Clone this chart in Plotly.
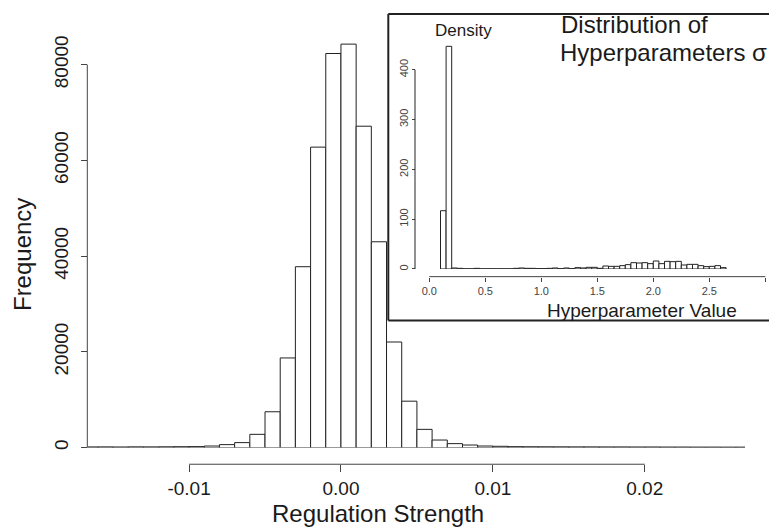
import plotly.graph_objects as go

W, H = 769, 530
FONT = "Liberation Sans, Arial, Helvetica, sans-serif"
TXT = "#1a1a1a"
AX = "#444444"

# ---------------- main histogram: regulation strength ----------------
reg_bin_left = [-0.017, -0.016, -0.015, -0.014, -0.013, -0.012, -0.011, -0.010,
                -0.009, -0.008, -0.007, -0.006, -0.005, -0.004, -0.003, -0.002,
                -0.001, 0.000, 0.001, 0.002, 0.003, 0.004, 0.005, 0.006, 0.007,
                0.008, 0.009, 0.010, 0.011, 0.012, 0.013, 0.014, 0.015, 0.016,
                0.017, 0.018, 0.019, 0.020, 0.021, 0.022, 0.023, 0.024, 0.025,
                0.026]
reg_counts = [140, 150, 130, 160, 150, 170, 190, 210,
              330, 620, 1040, 2770, 7490, 18730, 37790, 62770,
              82330, 84290, 67140, 43000, 22060, 9700, 3810, 1580, 830,
              540, 330, 270, 200, 180, 170, 160, 150, 150,
              140, 140, 130, 130, 120, 120, 110, 110, 100,
              100]
reg_bin_width = 0.001
main_xticks = [-0.01, 0.0, 0.01, 0.02]
main_xticklabels = ["-0.01", "0.00", "0.01", "0.02"]
main_yticks = [0, 20000, 40000, 60000, 80000]
main_yticklabels = ["0", "20000", "40000", "60000", "80000"]

# ---------------- inset histogram: hyperparameter sigma ----------------
hyp_bin_left = [0.10, 0.15, 0.20, 0.25, 0.30, 0.35, 0.40, 0.45, 0.50, 0.55,
                0.60, 0.65, 0.70, 0.75, 0.80, 0.85, 0.90, 0.95, 1.00, 1.05,
                1.10, 1.15, 1.20, 1.25, 1.30, 1.35, 1.40, 1.45, 1.50, 1.55,
                1.60, 1.65, 1.70, 1.75, 1.80, 1.85, 1.90, 1.95, 2.00, 2.05,
                2.10, 2.15, 2.20, 2.25, 2.30, 2.35, 2.40, 2.45, 2.50, 2.55,
                2.60]
hyp_density = [117, 447, 2.0, 1.3, 0.4, 0.4, 1.3, 0.3, 0.3, 0.3,
               0.3, 0.3, 0.3, 1.3, 2.0, 1.3, 1.3, 0.7, 0.7, 1.3,
               2.0, 0.7, 2.0, 0.7, 2.7, 2.0, 3.3, 3.3, 1.3, 6.0,
               5.3, 5.3, 6.7, 8.7, 12.7, 12.0, 12.7, 10.7, 16.0, 10.7,
               15.3, 14.7, 15.3, 8.0, 9.3, 9.3, 6.7, 4.7, 5.3, 6.7,
               2.7]
hyp_bin_width = 0.05
inset_xticks = [0.0, 0.5, 1.0, 1.5, 2.0, 2.5, 3.0]
inset_xticklabels = ["0.0", "0.5", "1.0", "1.5", "2.0", "2.5", "3.0"]
inset_yticks = [0, 100, 200, 300, 400]
inset_yticklabels = ["0", "100", "200", "300", "400"]


def fx(px):
    return px / W


def fy(py):
    return 1 - py / H


fig = go.Figure()

fig.add_trace(go.Bar(
    x=reg_bin_left, y=reg_counts, width=reg_bin_width, offset=0,
    marker=dict(color="white", line=dict(color="#222222", width=1)),
    xaxis="x", yaxis="y", hoverinfo="skip", showlegend=False))

fig.add_trace(go.Bar(
    x=hyp_bin_left, y=hyp_density, width=hyp_bin_width, offset=0,
    marker=dict(color="white", line=dict(color="#222222", width=1)),
    xaxis="x2", yaxis="y2", hoverinfo="skip", showlegend=False))

# main axes geometry (pixels)
m_left, m_right = 87.3, 745.0
m_base, m_top = 449.3, 10.0
px_per_20k = 96.1
main_xrange = [-0.0167, 0.0266]
main_ymax = (m_base - m_top) / px_per_20k * 20000
x_axis_y = 466.0

# inset axes geometry (pixels)
i_left, i_right = 415.0, 769.0
i_zero_x, px_per_unit = 429.3, 112.0
i_base, i_top = 270.0, 30.0
inset_xrange = [(i_left - i_zero_x) / px_per_unit, (i_right - i_zero_x) / px_per_unit]
inset_ymax = (i_base - i_top) * 2.0
inset_x_axis_y = 277.7

common = dict(showgrid=False, zeroline=False, showline=False, ticks="outside",
              tickcolor=AX, tickwidth=1)

fig.update_layout(
    width=W, height=H,
    margin=dict(l=0, r=0, t=0, b=0),
    paper_bgcolor="white", plot_bgcolor="white",
    font=dict(family=FONT, color=TXT),
    showlegend=False, hovermode=False,
    xaxis=dict(domain=[fx(m_left), fx(m_right)], range=main_xrange,
               anchor="free", position=fy(x_axis_y),
               tickvals=main_xticks, ticktext=main_xticklabels, ticklen=7,
               tickfont=dict(size=19, family=FONT, color=TXT), **common),
    yaxis=dict(domain=[fy(m_base), fy(m_top)], range=[0, main_ymax],
               anchor="free", position=fx(m_left),
               tickvals=main_yticks, ticktext=main_yticklabels, ticklen=6,
               tickangle=-90, ticklabelstandoff=6,
               tickfont=dict(size=19, family=FONT, color=TXT), **common),
    xaxis2=dict(domain=[fx(i_left), fx(i_right)], range=inset_xrange,
                anchor="free", position=fy(inset_x_axis_y),
                tickvals=inset_xticks, ticktext=inset_xticklabels, ticklen=4,
                tickfont=dict(size=11, family=FONT, color="#444444"), **common),
    yaxis2=dict(domain=[fy(i_base), fy(i_top)], range=[0, inset_ymax],
                anchor="free", position=fx(i_left),
                tickvals=inset_yticks, ticktext=inset_yticklabels, ticklen=3,
                tickangle=-90,
                tickfont=dict(size=11, family=FONT, color="#444444"), **common),
)

shapes = [
    # main x axis line (between first and last tick)
    dict(type="line", xref="x", yref="paper", x0=main_xticks[0], x1=main_xticks[-1],
         y0=fy(x_axis_y), y1=fy(x_axis_y), line=dict(color=AX, width=1)),
    # main y axis line
    dict(type="line", xref="paper", yref="y", x0=fx(m_left), x1=fx(m_left),
         y0=main_yticks[0], y1=main_yticks[-1], line=dict(color=AX, width=1)),
    # inset x axis line
    dict(type="line", xref="x2", yref="paper", x0=inset_xticks[0], x1=inset_xticks[-1],
         y0=fy(inset_x_axis_y), y1=fy(inset_x_axis_y), line=dict(color=AX, width=1)),
    # inset y axis line
    dict(type="line", xref="paper", yref="y2", x0=fx(i_left), x1=fx(i_left),
         y0=inset_yticks[0], y1=inset_yticks[-1], line=dict(color="#222222", width=1)),
    # inset frame: left, top and bottom edges (right edge lies outside the figure)
    dict(type="line", xref="paper", yref="paper", x0=fx(388.3), x1=fx(388.3),
         y0=fy(321.7), y1=fy(14), line=dict(color="#222222", width=2), layer="above"),
    dict(type="line", xref="paper", yref="paper", x0=fx(388.3), x1=1,
         y0=fy(14), y1=fy(14), line=dict(color="#222222", width=2), layer="above"),
    dict(type="line", xref="paper", yref="paper", x0=fx(388.3), x1=1,
         y0=fy(321.7), y1=fy(321.7), line=dict(color="#222222", width=2), layer="above"),
]
fig.update_layout(shapes=shapes)

ann = [
    dict(text="Regulation Strength", x=fx(378), y=fy(515), font=dict(size=24)),
    dict(text="Frequency", x=fx(22), y=fy(256), textangle=-90, font=dict(size=24)),
    dict(text="Density", x=fx(463), y=fy(30.7), font=dict(size=17)),
    dict(text="Distribution of", x=fx(559), y=fy(25), xanchor="left", font=dict(size=24)),
    dict(text="Hyperparameters σ", x=fx(558), y=fy(53), xanchor="left", font=dict(size=24)),
    dict(text="Hyperparameter Value", x=fx(641.7), y=fy(311.7), font=dict(size=19)),
]
for a in ann:
    a.setdefault("xanchor", "center")
    a.update(xref="paper", yref="paper", yanchor="middle", showarrow=False)
    a["font"].update(family=FONT, color=TXT)
fig.update_layout(annotations=ann)

fig.write_html("out.html", config={"displayModeBar": False})
